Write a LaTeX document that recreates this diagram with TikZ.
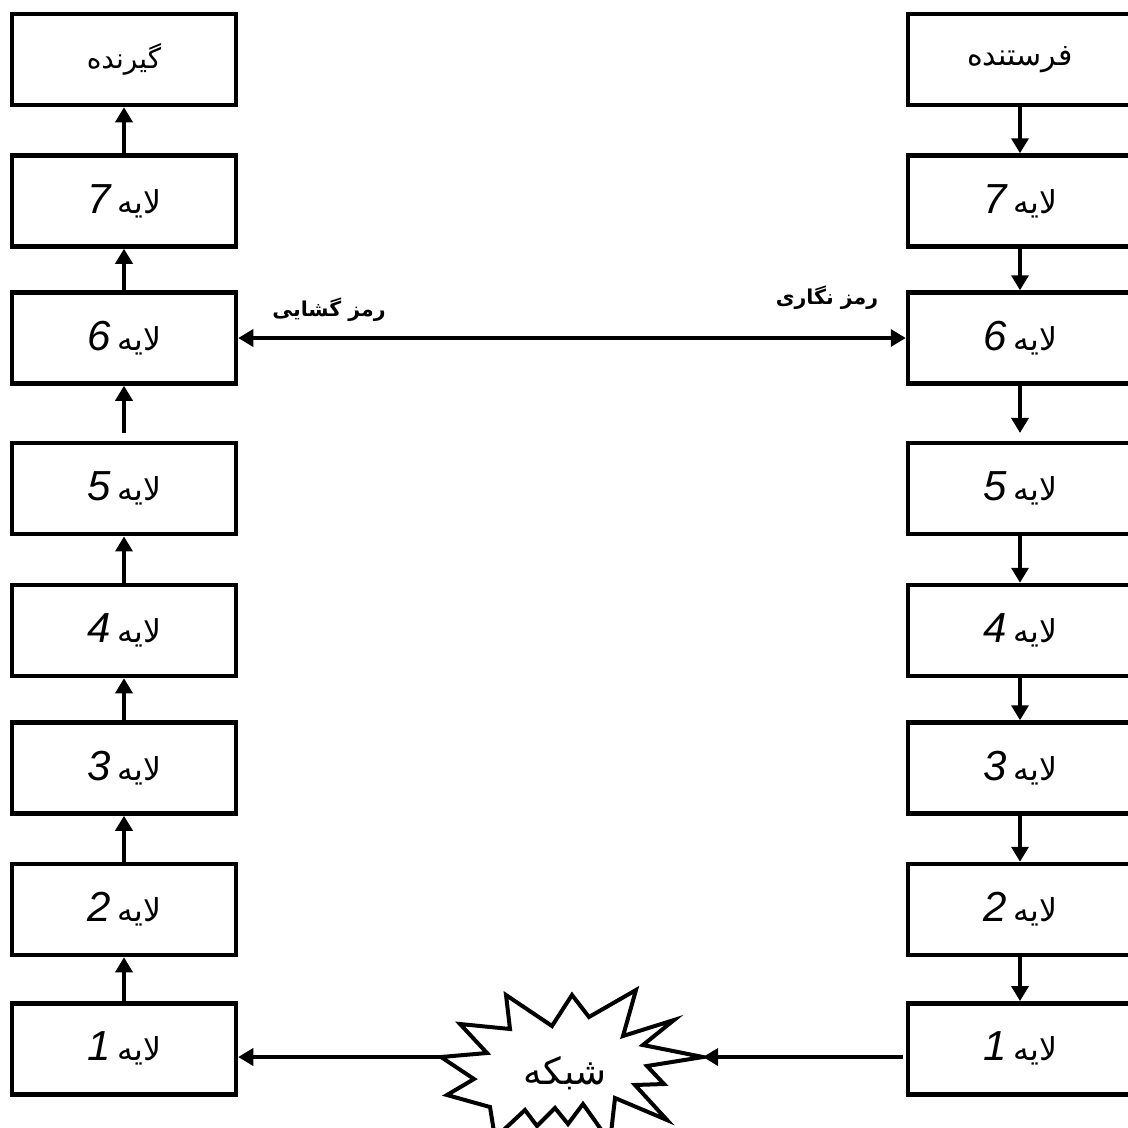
\documentclass[tikz,border=0pt]{standalone}
\usepackage{fontspec}
\TeXXeTstate=1
\newfontfamily\fa[Script=Arabic]{DejaVu Sans}
\newfontfamily\numfont{Liberation Sans}
\usetikzlibrary{arrows.meta,calc}
\tikzset{
  layerbox/.style={draw, line width=4.5pt, minimum width=224pt, minimum height=91pt, inner sep=0pt, fill=white},
  arr/.style={line width=3.5pt, -{Triangle[length=15pt,width=17pt]}},
  darr/.style={line width=3.5pt, {Triangle[length=15pt,width=17pt]}-{Triangle[length=15pt,width=17pt]}},
  lbl/.style={inner sep=0pt, font=\fa\bfseries\fontsize{20.5}{24}\selectfont},
}
\newcommand{\lay}[1]{{\numfont\itshape\fontsize{42}{48}\selectfont #1}\hspace{7pt}{\fa\fontsize{31.5}{36}\selectfont\beginR لایه\endR}}
\newcommand{\faword}[2]{{\fa\fontsize{#1}{#1}\selectfont\beginR #2\endR}}
\begin{document}
\begin{tikzpicture}[x=1pt,y=-1pt]
\useasboundingbox (0,0) rectangle (1128,1128);
% left column (receiver)
\node[layerbox] (LT) at (124,59.5) {\faword{28}{گیرنده}};
\node[layerbox] (L7) at (124,201) {\lay{7}};
\node[layerbox] (L6) at (124,338) {\lay{6}};
\node[layerbox] (L5) at (124,488.7) {\lay{5}};
\node[layerbox] (L4) at (124,630.5) {\lay{4}};
\node[layerbox] (L3) at (124,768) {\lay{3}};
\node[layerbox] (L2) at (124,909.5) {\lay{2}};
\node[layerbox] (L1) at (124,1048.8) {\lay{1}};
% right column (sender)
\node[layerbox] (RT) at (1020,59.5) {\faword{30}{فرستنده}};
\node[layerbox] (R7) at (1020,201) {\lay{7}};
\node[layerbox] (R6) at (1020,338) {\lay{6}};
\node[layerbox] (R5) at (1020,488.7) {\lay{5}};
\node[layerbox] (R4) at (1020,630.5) {\lay{4}};
\node[layerbox] (R3) at (1020,768) {\lay{3}};
\node[layerbox] (R2) at (1020,909.5) {\lay{2}};
\node[layerbox] (R1) at (1020,1048.8) {\lay{1}};
% left arrows (upward)
\draw[arr] (L7.north) -- (LT.south);
\draw[arr] (L6.north) -- (L7.south);
\coordinate (g5) at ($(L5.north)+(0,-8)$);
\draw[arr] (g5) -- (L6.south);
\draw[arr] (L4.north) -- (L5.south);
\draw[arr] (L3.north) -- (L4.south);
\draw[arr] (L2.north) -- (L3.south);
\draw[arr] (L1.north) -- (L2.south);
% right arrows (downward)
\draw[arr] (RT.south) -- (R7.north);
\draw[arr] (R7.south) -- (R6.north);
\coordinate (h5) at ($(R5.north)+(0,-8)$);
\draw[arr] (R6.south) -- (h5);
\draw[arr] (R5.south) -- (R4.north);
\draw[arr] (R4.south) -- (R3.north);
\draw[arr] (R3.south) -- (R2.north);
\draw[arr] (R2.south) -- (R1.north);
% encryption / decryption link
\draw[darr] (L6.east) -- (R6.west);
\node[lbl] (dec) at (329,310) {\beginR رمز گشایی\endR};
\node[lbl] (enc) at (827,298) {\beginR رمز نگاری\endR};
% network starburst
\coordinate (starL) at (441,1057);
\coordinate (starR) at (703,1057);
\draw[line width=4pt, line join=miter, fill=white]
  (starL) -- (487,1053) -- (460,1024) -- (510,1029) -- (506,995) -- (552,1026)
  -- (572,995) -- (589,1017) -- (636,990) -- (623,1036) -- (674,1020) -- (643,1045)
  -- (starR) -- (647,1066) -- (664,1084) -- (635,1085) -- (667,1120) -- (615,1098)
  -- (610,1142) -- (583,1104) -- (568,1124) -- (555,1108) -- (537,1126) -- (525,1110)
  -- (495,1138) -- (490,1107) -- (447,1095) -- (474,1079) -- cycle;
\node[inner sep=0pt] (net) at (565,1073) {\faword{37}{شبکه}};
\draw[arr] ($(R1.west |- starR)+(-3,0)$) -- (starR);
\draw[arr] (starL) -- (L1.east |- starL);
\end{tikzpicture}
\end{document}
